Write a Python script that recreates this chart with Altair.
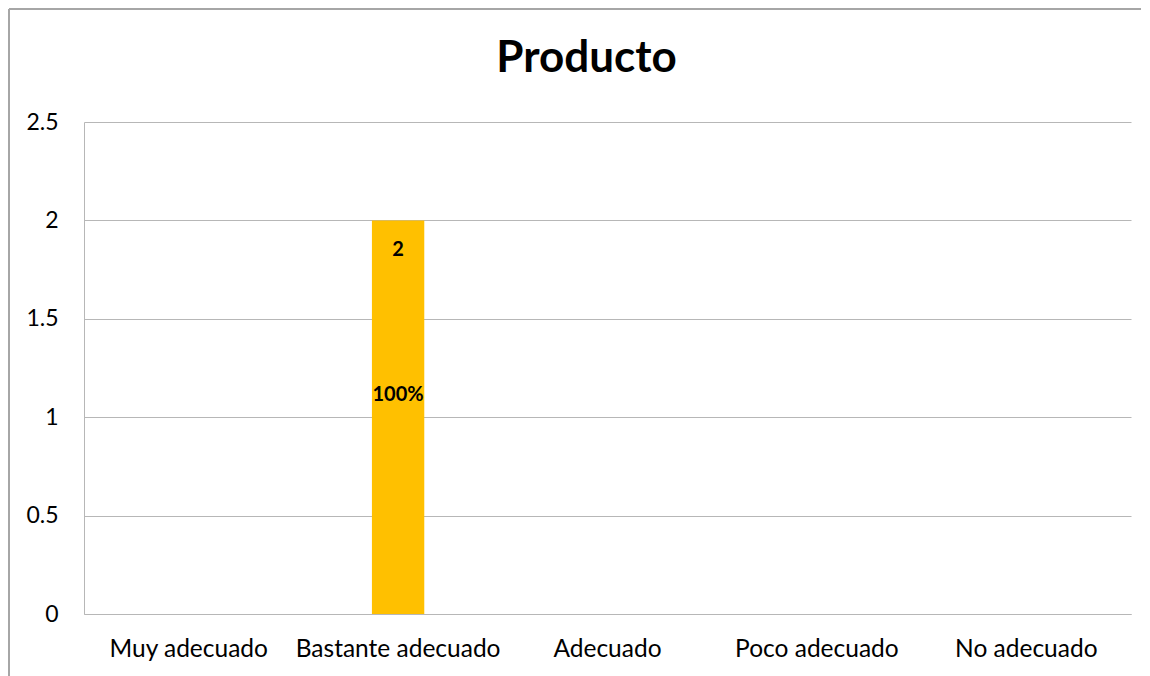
import altair as alt
import pandas as pd

categories = ["Muy adecuado", "Bastante adecuado", "Adecuado", "Poco adecuado", "No adecuado"]
values = [0, 2, 0, 0, 0]
pct_labels = ["", "100%", "", "", ""]
val_labels = ["", "2", "", "", ""]

df = pd.DataFrame({"cat": categories, "val": values, "pct": pct_labels, "vlab": val_labels})
df["half"] = df["val"] / 2

FONT = "Lato"
GRID = "#b7b7b7"

x = alt.X("cat:N", sort=categories, title=None,
          scale=alt.Scale(paddingInner=0.75, paddingOuter=0.375),
          axis=alt.Axis(labelAngle=0, labelFontSize=24.5, labelFont=FONT, labelColor="#000000",
                        ticks=False, domainColor=GRID, labelPadding=23, labelLimit=0))
y_scale = alt.Scale(domain=[0, 2.5])

bars = alt.Chart(df).mark_bar(color="#FFC000").encode(
    x=x,
    y=alt.Y("val:Q", scale=y_scale, title=None,
            axis=alt.Axis(values=[0, 0.5, 1, 1.5, 2, 2.5], format="~g", labelFontSize=23,
                          labelFont=FONT, labelColor="#000000", ticks=False, domainColor=GRID,
                          gridColor=GRID, labelPadding=26)),
)

top_lab = alt.Chart(df).mark_text(fontSize=20, fontWeight="bold", font=FONT, color="#000000",
                                  dy=30).encode(
    x=alt.X("cat:N", sort=categories), y=alt.Y("val:Q", scale=y_scale), text="vlab:N")

mid_lab = alt.Chart(df).mark_text(fontSize=20, fontWeight="bold", font=FONT, color="#000000",
                                  dy=-22).encode(
    x=alt.X("cat:N", sort=categories), y=alt.Y("half:Q", scale=y_scale), text="pct:N")

border_left = alt.Chart(df).mark_rule(color="#a6a6a6", strokeWidth=1.5, clip=False).encode(
    x=alt.value(-75), y=alt.value(-113), y2=alt.value(570))
border_top = alt.Chart(df).mark_rule(color="#a6a6a6", strokeWidth=1.5, clip=False).encode(
    x=alt.value(-75), x2=alt.value(1070), y=alt.value(-113))

chart = alt.layer(bars, top_lab, mid_lab, border_left, border_top).properties(
    width=1047, height=492,
    title=alt.TitleParams("Producto", fontSize=44, fontWeight="bold", font=FONT,
                          color="#000000", anchor="middle", dx=-21, offset=-73),
    padding={"left": 76, "top": 114, "right": 10, "bottom": 62},
    autosize=alt.AutoSizeParams(type="none"),
).configure_view(stroke=None)

chart.save("out.html", embed_options={"renderer": "svg", "actions": False})
